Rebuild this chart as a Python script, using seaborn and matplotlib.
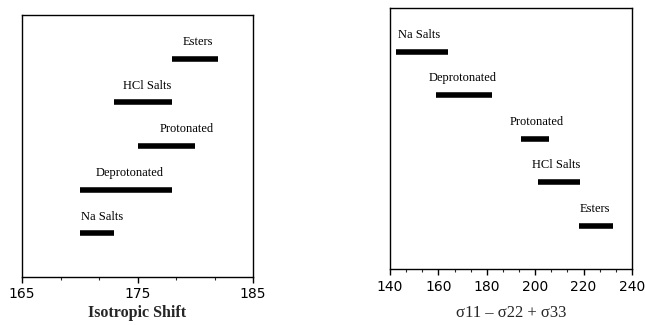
import matplotlib
matplotlib.use("Agg")
import matplotlib.pyplot as plt
from matplotlib.ticker import AutoMinorLocator, FixedLocator
import seaborn as sns
import pandas as pd

# ---- data ----
left_categories = ["Esters", "HCl Salts", "Protonated", "Deprotonated", "Na Salts"]
left_start = [178, 173, 175, 170, 170]
left_end = [182, 178, 180, 178, 173]
left_label_x = [180.2, 175.8, 179.3, 174.3, 171.9]
left_ticks = [165, 175, 185]
left_xlabel = "Isotropic Shift"

right_categories = ["Na Salts", "Deprotonated", "Protonated", "HCl Salts", "Esters"]
right_start = [142.5, 159, 194, 201, 218]
right_end = [164, 182, 205.5, 218.5, 232]
right_label_x = [152.1, 170.0, 200.7, 208.7, 224.8]
right_ticks = [140, 160, 180, 200, 220, 240]
right_xlabel = "σ11 – σ22 + σ33"

sns.set_theme(style="white")
plt.rcParams["font.family"] = ["DejaVu Sans"]

W, H = 645, 325
fig = plt.figure(figsize=(W / 100, H / 100), dpi=100)
axL = fig.add_axes([22 / W, 1 - 277 / H, 231 / W, 262 / H])
axR = fig.add_axes([390 / W, 1 - 269 / H, 242 / W, 261 / H])


def long_df(cats, starts, ends):
    rows = []
    for i, (c, s, e) in enumerate(zip(cats, starts, ends)):
        rows.append({"cat": c, "pos": i, "value": s})
        rows.append({"cat": c, "pos": i, "value": e})
    return pd.DataFrame(rows)


def draw(ax, cats, starts, ends, label_x, ticks, minor_n, xlabel, xlabel_kw,
         labelpad, tickpad):
    df = long_df(cats, starts, ends)
    sns.lineplot(data=df, x="value", y="pos", units="cat", estimator=None,
                 sort=False, color="black", lw=4, solid_capstyle="butt",
                 ax=ax, legend=False)
    for i, (c, lx) in enumerate(zip(cats, label_x)):
        ax.text(lx, i - 0.38, c, ha="center", va="center",
                family="Liberation Serif", fontsize=9, color="black")
    ax.set_xlim(ticks[0], ticks[-1])
    ax.set_ylim(5, -1)
    ax.set_yticks([])
    ax.set_ylabel("")
    ax.xaxis.set_major_locator(FixedLocator(ticks))
    ax.xaxis.set_minor_locator(AutoMinorLocator(minor_n))
    ax.tick_params(axis="x", which="major", direction="out", length=4,
                   width=1, labelsize=10, pad=tickpad, bottom=True, colors="black")
    ax.tick_params(axis="x", which="minor", direction="out", length=2.5,
                   width=0.8, bottom=True)
    for sp in ax.spines.values():
        sp.set_visible(True)
        sp.set_color("black")
        sp.set_linewidth(1.0)
    ax.set_xlabel(xlabel, labelpad=labelpad, **xlabel_kw)
    ax.set_facecolor("white")


draw(axL, left_categories, left_start, left_end, left_label_x, left_ticks, 3,
     left_xlabel, dict(family="Liberation Serif", fontsize=11.5,
                       fontweight="bold"), 3, 3)
draw(axR, right_categories, right_start, right_end, right_label_x, right_ticks, 3,
     right_xlabel, dict(family="Liberation Serif", fontsize=12), 8, 4)

fig.savefig("out.png", dpi=100, facecolor="white")
